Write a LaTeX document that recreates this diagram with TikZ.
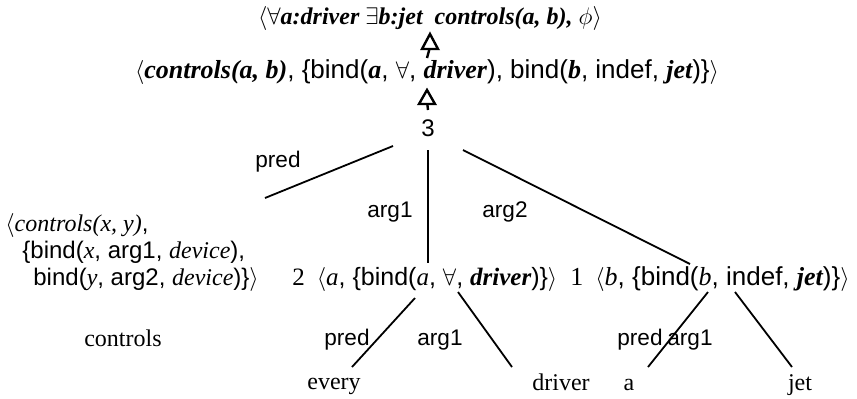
\documentclass[tikz,border=0pt]{standalone}
\usepackage{fontspec}
\setmainfont{Liberation Serif}
\setsansfont{Liberation Sans}
\usetikzlibrary{calc}
\newcommand\bi[1]{{\bfseries\itshape #1}}
\newcommand\myit[1]{{\itshape #1}}
\newcommand\rmt[1]{{\rmfamily #1}}
\begin{document}
\begin{tikzpicture}[x=0.5pt,y=-0.5pt,
  txt/.style={inner sep=0pt,font=\sffamily\fontsize{12}{14}\selectfont},
  rowtxt/.style={inner sep=0pt,font=\sffamily\fontsize{12.5}{14}\selectfont},
  rowctxt/.style={inner sep=0pt,font=\sffamily\fontsize{13}{15}\selectfont},
  rowbtxt/.style={inner sep=0pt,font=\sffamily\fontsize{13}{15}\selectfont},
  toptxt/.style={inner sep=0pt,font=\rmfamily\bfseries\itshape\fontsize{12}{14}\selectfont},
  leaf/.style={inner sep=0pt,anchor=base,font=\rmfamily\fontsize{12}{14}\selectfont},
  lbl/.style={inner sep=0pt,font=\sffamily\fontsize{11.3}{13}\selectfont},
  edge/.style={line width=0.9pt},
  stem/.style={line width=1.2pt},
  openhead/.style={line width=1.2pt,line join=miter,fill=white}]
\useasboundingbox (0,0) rectangle (857,398);
% top rows
\node[toptxt] (top) at (430,18) {$\langle\forall$a:driver $\exists$b:jet\ \ controls(a, b), $\phi\rangle$};
\node[rowbtxt] (rowb) at (427,72) {$\langle$\bi{\rmfamily controls(a, b)}, \{bind(\bi{\rmfamily a}, $\forall$, \bi{\rmfamily driver}), bind(\bi{\rmfamily b}, indef, \bi{\rmfamily jet})\}$\rangle$};
\node[txt] (three) at (428,128) {3};
% left block
\node[txt,anchor=west] (l1) at (5,225) {$\langle$\myit{\rmfamily controls(x, y)},};
\node[txt,anchor=west] (l2) at (22,252) {\{bind(\myit{\rmfamily x}, arg1, \myit{\rmfamily device}),};
\node[txt,anchor=west] (l3) at (33,279) {bind(\myit{\rmfamily y}, arg2, \myit{\rmfamily device})\}$\rangle$};
% middle row
\node[rowtxt,anchor=west] (n2) at (292,279) {\rmt{2}\hspace{6pt}$\langle$\myit{\rmfamily a}, \{bind(\myit{\rmfamily a}, $\forall$, \bi{\rmfamily driver})\}$\rangle$};
\node[rowctxt,anchor=west] (n1) at (570,279) {\rmt{1}\hspace{6pt}$\langle$\myit{\rmfamily b}, \{bind(\myit{\rmfamily b}, indef, \bi{\rmfamily jet})\}$\rangle$};
% leaves
\node[leaf] (lcontrols) at (123,346) {controls};
\node[leaf] (levery) at (334,389) {every};
\node[leaf] (ldriver) at (561,390) {driver};
\node[leaf] (la) at (629,390) {a};
\node[leaf] (ljet) at (800,390) {jet};
% labels
\node[lbl] (lpred) at (278,162) {pred};
\node[lbl] (larg1) at (390,212) {arg1};
\node[lbl] (larg2) at (505,212) {arg2};
\node[lbl] (lpred2) at (347,340) {pred};
\node[lbl] (larg12) at (440,340) {arg1};
\node[lbl] (lpred3) at (640,340) {pred};
\node[lbl] (larg13) at (690,340) {arg1};
% arrows (stem + open triangle head)
\draw[stem] ($(rowb)+(0,-14)$) -- ($(top)+(0,29)$);
\draw[openhead] ($(top)+(0,16)$) -- ($(top)+(-8,31)$) -- ($(top)+(8,31)$) -- cycle;
\draw[stem] ($(three)+(0,-18)$) -- ($(rowb)+(0,29)$);
\draw[openhead] ($(rowb)+(0,18)$) -- ($(rowb)+(-8,32)$) -- ($(rowb)+(8,32)$) -- cycle;
% edges
\draw[edge] ($(three)+(-35,18)$) -- ($(l1.west)+(260,-27)$);
\draw[edge] ($(three)+(0,22)$) -- ($(n2.west)+(136,-16)$);
\draw[edge] ($(three)+(35,22)$) -- ($(n1.west)+(120,-15)$);
\draw[edge] ($(n2.west)+(123,19)$) -- ($(levery.base)+(18,-22)$);
\draw[edge] ($(n2.west)+(166,13)$) -- ($(ldriver.base)+(-49,-23)$);
\draw[edge] ($(n1.west)+(138,13)$) -- ($(la.base)+(19,-23)$);
\draw[edge] ($(n1.west)+(165,13)$) -- ($(ljet.base)+(-8,-23)$);
\end{tikzpicture}
\end{document}
